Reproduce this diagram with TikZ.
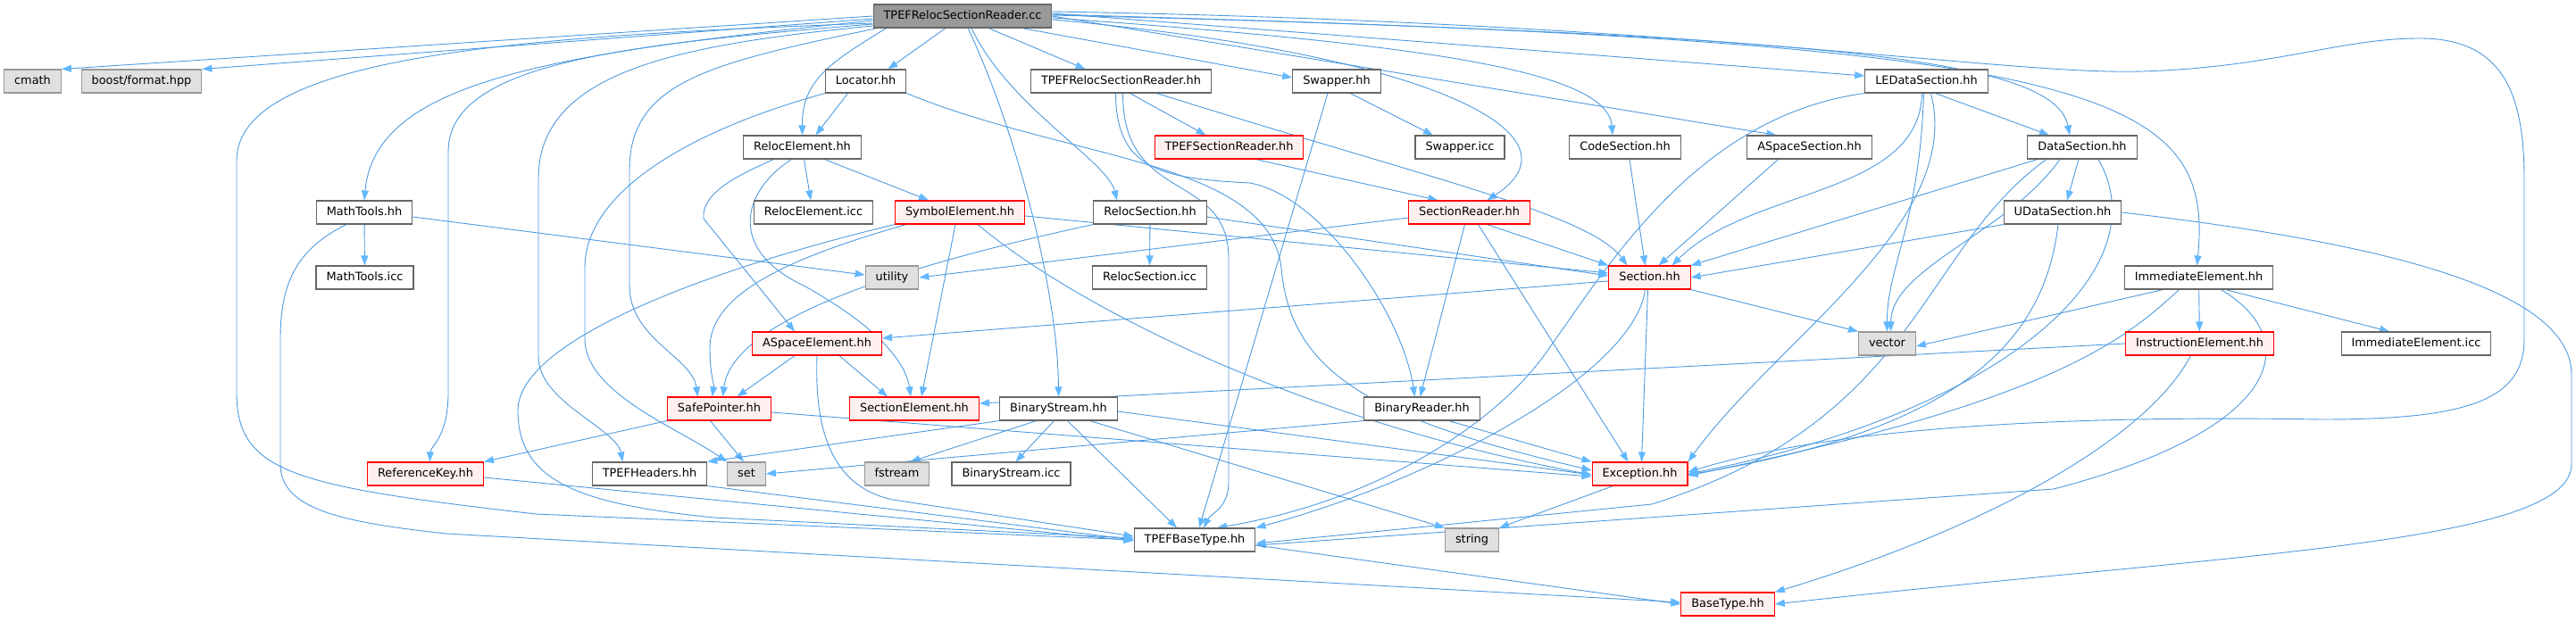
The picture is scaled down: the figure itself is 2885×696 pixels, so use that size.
\documentclass[tikz,border=0pt]{standalone}
\usepackage{fontspec}
\setmainfont{DejaVu Sans}
\usetikzlibrary{arrows.meta}
\definecolor{edgeblue}{HTML}{63B8FF}
\definecolor{edgeline}{HTML}{4C9AE0}
\definecolor{boxgray}{HTML}{666666}
\definecolor{sysgray}{HTML}{999999}
\definecolor{sysfill}{HTML}{E0E0E0}
\definecolor{truncfill}{HTML}{FFF0F0}
\definecolor{rootfill}{HTML}{999999}
\pgfdeclarelayer{bg}
\pgfsetlayers{bg,main}
\begin{document}
\begin{tikzpicture}[x=1pt, y=-1pt,
  box/.style={rectangle, minimum height=26pt, inner xsep=11.5pt, inner ysep=0pt, text height=9.6pt, text depth=2.6pt, line width=1.1pt, font=\fontsize{12.9}{15}\selectfont},
  hdr/.style={box, draw=boxgray, fill=white},
  sys/.style={box, draw=sysgray, fill=sysfill},
  trunc/.style={box, draw=red, fill=truncfill},
  rootnd/.style={box, draw=boxgray, fill=rootfill},
  dep/.style={draw=edgeline, line width=0.9pt, -{Triangle[length=11pt,width=8pt,color=edgeblue]}}]
\useasboundingbox (0,0) rectangle (2885,696);

\node[rootnd] (root) at (1078,18) {TPEFRelocSectionReader.cc};

\node[sys] (cmath) at (36.5,91) {cmath};
\node[sys] (boostfmt) at (158.5,91) {boost/format.hpp};
\node[hdr] (locator) at (969.5,91) {Locator.hh};
\node[hdr] (trsr) at (1255.5,91) {TPEFRelocSectionReader.hh};
\node[hdr] (swapper) at (1497,91) {Swapper.hh};
\node[hdr] (ledata) at (2157.5,91) {LEDataSection.hh};

\node[hdr] (relocel) at (898.5,165) {RelocElement.hh};
\node[trunc] (tsreader) at (1376.5,165) {TPEFSectionReader.hh};
\node[hdr] (swapicc) at (1635,165) {Swapper.icc};
\node[hdr] (codesec) at (1820,165) {CodeSection.hh};
\node[hdr] (aspsec) at (2026.5,165) {ASpaceSection.hh};
\node[hdr] (datasec) at (2332,165) {DataSection.hh};

\node[hdr] (mtools) at (408,238) {MathTools.hh};
\node[hdr] (relocicc) at (911,238) {RelocElement.icc};
\node[trunc] (symel) at (1075,238) {SymbolElement.hh};
\node[hdr] (relocsec) at (1288,238) {RelocSection.hh};
\node[trunc] (secreader) at (1645.5,238) {SectionReader.hh};
\node[hdr] (udata) at (2310,238) {UDataSection.hh};

\node[hdr] (mticc) at (408.5,311) {MathTools.icc};
\node[sys] (utility) at (999,311) {utility};
\node[hdr] (relsicc) at (1287.5,311) {RelocSection.icc};
\node[trunc] (section) at (1847.5,311) {Section.hh};
\node[hdr] (immel) at (2462.5,311) {ImmediateElement.hh};

\node[trunc] (aspel) at (915,385) {ASpaceElement.hh};
\node[sys] (vector) at (2113.5,385) {vector};
\node[trunc] (instel) at (2463.5,385) {InstructionElement.hh};
\node[hdr] (immicc) at (2706,385) {ImmediateElement.icc};

\node[trunc] (safeptr) at (805.5,458) {SafePointer.hh};
\node[trunc] (secel) at (1024,458) {SectionElement.hh};
\node[hdr] (bstream) at (1185.5,458) {BinaryStream.hh};
\node[hdr] (breader) at (1592.5,458) {BinaryReader.hh};

\node[trunc] (refkey) at (476.5,531) {ReferenceKey.hh};
\node[hdr] (theaders) at (727.5,531) {TPEFHeaders.hh};
\node[sys] (set) at (836,531) {set};
\node[sys] (fstream) at (1004.5,531) {fstream};
\node[hdr] (bsicc) at (1132.5,531) {BinaryStream.icc};
\node[trunc] (exc) at (1836.5,531) {Exception.hh};

\node[hdr] (tbase) at (1338,605) {TPEFBaseType.hh};
\node[sys] (string) at (1648.5,605) {string};

\node[trunc] (btype) at (1935,677) {BaseType.hh};

\begin{pgfonlayer}{bg}
\draw[dep] (root.west) -- (cmath.north east);
\draw[dep] ([yshift=-3pt]root.west) -- (boostfmt.north east);
\draw[dep] ([yshift=-8pt]root.west) .. controls (600,40) and (265,60) .. (265,180) -- (265,440) .. controls (265,530) and (330,545) .. (600,576) -- (tbase.west);
\draw[dep] ([yshift=-5pt]root.west) .. controls (620,60) and (420,90) .. (mtools.north);
\draw[dep] ([yshift=-9pt]root.west) .. controls (700,50) and (502,70) .. (502,170) -- (502,440) .. controls (502,490) and (482,500) .. ([xshift=5pt]refkey.north);
\draw[dep] ([yshift=-11pt]root.west) .. controls (760,50) and (603,80) .. (603,200) -- (603,400) .. controls (603,450) and (690,480) .. ([xshift=-30pt]theaders.north);
\draw[dep] ([xshift=5pt]root.south west) .. controls (800,70) and (705,90) .. (705,190) -- (705,320) .. controls (705,380) and (775,400) .. ([xshift=-24pt]safeptr.north);
\draw[dep] ([xshift=15pt]root.south west) .. controls (930,70) and (898,90) .. (relocel.north);
\draw[dep] ([xshift=-19pt]root.south) -- ([xshift=25pt]locator.north);
\draw[dep] ([xshift=6pt]root.south) .. controls (1140,150) and (1185,330) .. (bstream.north);
\draw[dep] ([xshift=10pt]root.south) .. controls (1130,120) and (1240,180) .. ([xshift=-37pt]relocsec.north);
\draw[dep] ([xshift=29pt]root.south) -- ([xshift=-40pt]trsr.north);
\draw[dep] ([xshift=-34pt]root.south east) -- ([yshift=4pt]swapper.west);
\draw[dep] ([yshift=-4pt]root.east) .. controls (1600,60) and (1780,150) .. ([xshift=20pt]secreader.north);
\draw[dep] ([yshift=-2pt]root.east) .. controls (1600,50) and (1800,80) .. ([xshift=-14pt]codesec.north);
\draw[dep] (root.east) -- ([xshift=-37pt]aspsec.north);
\draw[dep] ([yshift=3pt]root.east) -- ([yshift=6pt]ledata.west);
\draw[dep] ([yshift=2pt]root.east) .. controls (2000,40) and (2300,60) .. ([xshift=-14pt]datasec.north);
\draw[dep] ([yshift=1pt]root.east) .. controls (2350,45) and (2480,100) .. ([xshift=-2pt]immel.north);
\draw[dep] ([yshift=5pt]root.east) .. controls (1900,25) and (2250,85) .. (2400,80) .. controls (2550,75) and (2620,43) .. (2710,43) .. controls (2800,43) and (2827,100) .. (2827,200) -- (2827,380) .. controls (2827,450) and (2760,470) .. (2600,470) .. controls (2300,465) and (2050,480) .. ([yshift=2pt]exc.east);

\draw[dep] ([xshift=-20pt]locator.south) -- ([xshift=15pt]relocel.north);
\draw[dep] (locator.south west) .. controls (760,150) and (655,220) .. (655,300) -- (655,380) .. controls (655,440) and (760,480) .. (set.north west);
\draw[dep] (locator.south east) .. controls (1200,180) and (1420,180) .. (1435,300) .. controls (1445,420) and (1540,470) .. ([yshift=4pt]exc.west);

\draw[dep] ([xshift=10pt]trsr.south) -- ([xshift=-26pt]tsreader.north);
\draw[dep] ([xshift=40pt]trsr.south) .. controls (1600,200) and (1780,240) .. ([xshift=-25pt]section.north);
\draw[dep] ([xshift=-6pt]trsr.south) .. controls (1250,190) and (1300,200) .. (1400,205) .. controls (1480,220) and (1570,350) .. ([xshift=-8pt]breader.north);
\draw[dep] ([xshift=2pt]trsr.south) .. controls (1257,230) and (1376,190) .. (1376,290) -- (1376,540) .. controls (1376,570) and (1356,575) .. ([xshift=10pt]tbase.north);

\draw[dep] ([xshift=15pt]swapper.south) -- ([xshift=-30pt]swapicc.north);
\draw[dep] ([xshift=-10pt]swapper.south) -- ([xshift=5pt]tbase.north);

\draw[dep] ([xshift=10pt]ledata.south) -- ([xshift=-37pt]datasec.north);
\draw[dep] ([xshift=-5pt]ledata.south) .. controls (2150,220) and (1960,210) .. ([xshift=25pt]section.north);
\draw[dep] ([xshift=-3pt]ledata.south) .. controls (2150,250) and (2113,300) .. (vector.north);
\draw[dep] ([xshift=5pt]ledata.south) .. controls (2200,250) and (1990,380) .. (exc.north east);
\draw[dep] (ledata.south west) .. controls (1900,130) and (1800,300) .. (1733,393) .. controls (1680,470) and (1550,560) .. ([xshift=25pt]tbase.north);

\draw[dep] ([xshift=-4pt]datasec.south) -- ([xshift=5pt]udata.north);
\draw[dep] ([xshift=-50pt]datasec.south) -- (section.north east);
\draw[dep] ([xshift=-25pt]datasec.south) .. controls (2250,260) and (2118,300) .. ([xshift=4pt]vector.north);
\draw[dep] ([xshift=18pt]datasec.south) .. controls (2420,300) and (2250,460) .. (exc.east);
\draw[dep] ([xshift=-40pt]datasec.south) .. controls (2150,280) and (2150,470) .. (1850,565) -- ([yshift=-4pt]tbase.east);

\draw[dep] (udata.south west) -- (section.east);
\draw[dep] ([xshift=-5pt]udata.south) .. controls (2290,380) and (2200,480) .. ([yshift=-1pt]exc.east);
\draw[dep] (udata.east) .. controls (2650,270) and (2880,320) .. (2880,420) -- (2880,520) .. controls (2880,610) and (2500,620) .. (btype.east);

\draw[dep] ([xshift=5pt]codesec.south) -- ([xshift=-5pt]section.north);
\draw[dep] ([xshift=-35pt]aspsec.south) -- ([xshift=10pt]section.north);

\draw[dep] ([xshift=2pt]relocel.south) -- ([xshift=-3pt]relocicc.north);
\draw[dep] ([xshift=25pt]relocel.south) -- ([xshift=-35pt]symel.north);
\draw[dep] ([xshift=-32pt]relocel.south) .. controls (830,195) and (785,215) .. (788,245) -- ([xshift=-25pt]aspel.north);
\draw[dep] ([xshift=-12pt]relocel.south) .. controls (830,215) and (815,280) .. (900,320) .. controls (990,370) and (1015,410) .. ([xshift=-4pt]secel.north);

\draw[dep] (mtools) -- (mticc);
\draw[dep] ([yshift=-5pt]mtools.east) -- ([yshift=3pt]utility.west);
\draw[dep] ([xshift=-20pt]mtools.south) .. controls (330,280) and (314,320) .. (314,380) -- (314,520) .. controls (314,570) and (380,585) .. (500,598) -- ([yshift=2pt]btype.west);

\draw[dep] ([yshift=-4pt]symel.east) -- ([yshift=5pt]section.west);
\draw[dep] ([xshift=-60pt]symel.south) .. controls (880,290) and (795,330) .. (795,390) .. controls (795,420) and (800,430) .. ([xshift=-8pt]safeptr.north);
\draw[dep] ([xshift=-5pt]symel.south) -- ([xshift=8pt]secel.north);
\draw[dep] ([xshift=20pt]symel.south) .. controls (1200,340) and (1450,470) .. ([yshift=-1pt]exc.west);
\draw[dep] (symel.south west) .. controls (800,300) and (580,380) .. (580,460) .. controls (580,540) and (650,565) .. (800,580) -- ([yshift=2pt]tbase.west);

\draw[dep] (relocsec) -- (relsicc);
\draw[dep] ([yshift=-5pt]relocsec.east) -- ([yshift=2pt]section.west);
\draw[dep] (relocsec.south west) .. controls (1000,300) and (820,360) .. ([xshift=4pt]safeptr.north);

\draw[dep] ([xshift=20pt]secreader.south) -- (section.north west);
\draw[dep] ([yshift=-6pt]secreader.west) -- (utility.east);
\draw[dep] ([xshift=-5pt]secreader.south) -- ([xshift=-2pt]breader.north);
\draw[dep] ([xshift=10pt]secreader.south) -- ([xshift=-13pt]exc.north);
\draw[dep] ([xshift=30pt]tsreader.south) -- ([xshift=-35pt]secreader.north);

\draw[dep] ([yshift=-4pt]section.west) -- ([yshift=6pt]aspel.east);
\draw[dep] (section.south east) -- (vector.north west);
\draw[dep] ([xshift=-2pt]section.south) -- ([xshift=2pt]exc.north);
\draw[dep] ([xshift=-5pt]section.south) .. controls (1830,420) and (1600,540) .. (tbase.north east);

\draw[dep] ([xshift=-40pt]immel.south) -- ([yshift=-3pt]vector.east);
\draw[dep] (immel) -- (instel);
\draw[dep] ([xshift=30pt]immel.south) -- ([xshift=-30pt]immicc.north);
\draw[dep] ([xshift=-22pt]immel.south) .. controls (2380,380) and (2300,450) .. ([yshift=-2pt]exc.east);
\draw[dep] ([xshift=25pt]immel.south) .. controls (2580,380) and (2560,480) .. (2300,548) -- ([yshift=-6pt]tbase.east);

\draw[dep] (instel.west) -- ([yshift=6pt]secel.east);
\draw[dep] ([xshift=-10pt]instel.south) .. controls (2400,500) and (2200,600) .. (btype.north east);

\draw[dep] ([xshift=-25pt]aspel.south) -- ([xshift=20pt]safeptr.north);
\draw[dep] ([xshift=25pt]aspel.south) -- ([xshift=-30pt]secel.north);
\draw[dep] (aspel.south) .. controls (912,480) and (930,545) .. (1000,560) -- ([yshift=4pt]tbase.west);

\draw[dep] (safeptr.south west) -- (refkey.north east);
\draw[dep] ([xshift=-10pt]safeptr.south) -- ([xshift=-3pt]set.north);
\draw[dep] ([yshift=-4pt]safeptr.east) -- ([yshift=-3pt]exc.west);

\draw[dep] (bstream.south west) -- (theaders.north east);
\draw[dep] ([xshift=-25pt]bstream.south) -- ([xshift=15pt]fstream.north);
\draw[dep] ([xshift=-5pt]bstream.south) -- ([xshift=5pt]bsicc.north);
\draw[dep] ([xshift=10pt]bstream.south) -- ([xshift=-20pt]tbase.north);
\draw[dep] ([xshift=35pt]bstream.south) -- (string.north west);
\draw[dep] ([yshift=-3pt]bstream.east) -- ([yshift=-1pt]exc.west);

\draw[dep] (breader.south west) -- (set.east);
\draw[dep] ([xshift=30pt]breader.south) -- (exc.north west);

\draw[dep] ([yshift=-4pt]refkey.east) -- ([yshift=-1pt]tbase.west);
\draw[dep] (theaders.south east) -- (tbase.west);
\draw[dep] ([xshift=-30pt]exc.south) -- (string.north east);
\draw[dep] ([yshift=-6pt]tbase.east) -- (btype.west);
\end{pgfonlayer}
\end{tikzpicture}
\end{document}
